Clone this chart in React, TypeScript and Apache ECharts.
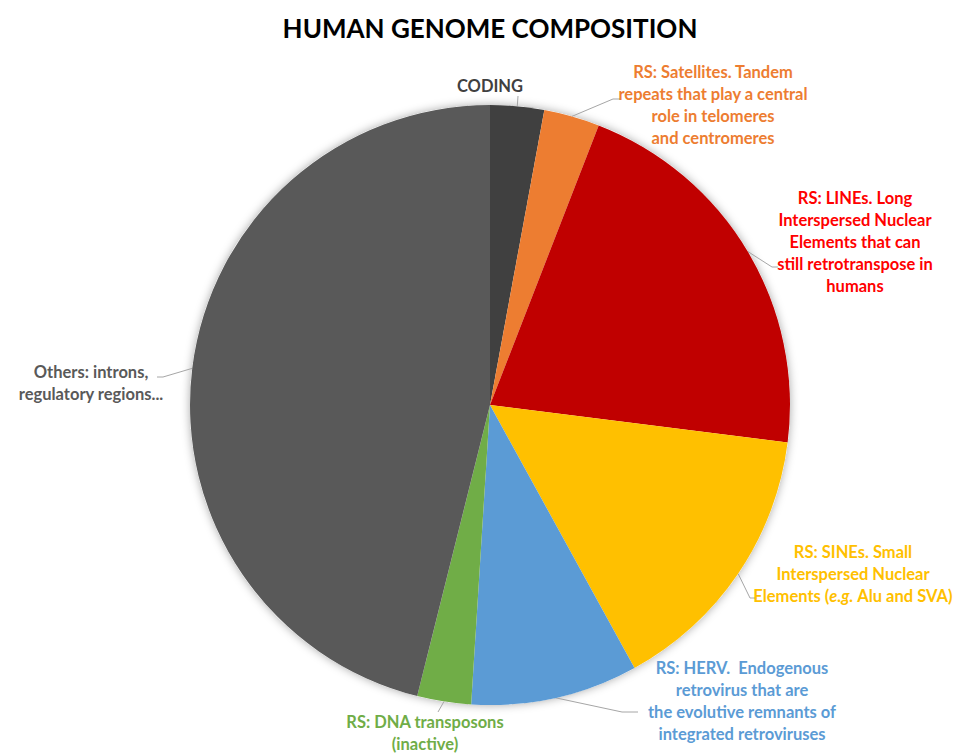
import React, { useEffect, useRef } from "react";
import * as echarts from "echarts";

const categories = [
  "CODING",
  "RS: Satellites",
  "RS: LINEs",
  "RS: SINEs",
  "RS: HERV",
  "RS: DNA transposons",
  "Others",
];
const values = [2.9, 3.0, 21.1, 15.0, 9.0, 2.9, 46.1];
const sliceColors = ["#404040", "#ED7D31", "#C00000", "#FFC000", "#5B9BD5", "#70AD47", "#595959"];
const labelColors = ["#404040", "#ED7D31", "#FF0000", "#FFC000", "#5B9BD5", "#70AD47", "#595959"];
const labelTexts = [
  "CODING",
  "RS: Satellites. Tandem\nrepeats that play a central\nrole in telomeres\nand centromeres",
  "RS: LINEs. Long\nInterspersed Nuclear\nElements that can\nstill retrotranspose in\nhumans",
  "RS: SINEs. Small\nInterspersed Nuclear\nElements ({i|e.g.} Alu and SVA)",
  "RS: HERV.  Endogenous\nretrovirus that are\nthe evolutive remnants of\nintegrated retroviruses",
  "RS: DNA transposons\n(inactive)",
  "Others: introns,\nregulatory regions...",
];

// label layout (positions only)
const CX = 490;
const CY = 405;
const R = 300;
const labelLayoutSpec: { x: number; y: number; pts: number[][] }[] = [
  { x: 490, y: 86, pts: [[518, 96]] },
  { x: 713, y: 105, pts: [[613, 99], [620, 99]] },
  { x: 855, y: 242, pts: [[772, 267], [778, 267]] },
  { x: 853, y: 574, pts: [[750, 598], [757, 598]] },
  { x: 742, y: 701, pts: [[622, 712], [638, 712]] },
  { x: 425, y: 733, pts: [[438, 712]] },
  { x: 91, y: 383, pts: [[163, 377], [157, 377]] },
];

const FONT = "Lato, 'Open Sans', sans-serif";
const FS = 16.5;

export default function App() {
  const ref = useRef<HTMLDivElement>(null);
  useEffect(() => {
    if (!ref.current) return;
    const chart = echarts.init(ref.current, undefined, { renderer: "svg" });
    const total = values.reduce((a, b) => a + b, 0);
    const mids: number[] = [];
    let cum = 0;
    values.forEach((v) => {
      mids.push(((cum + v / 2) / total) * 2 * Math.PI);
      cum += v;
    });
    const edge = (i: number) => [CX + R * Math.sin(mids[i]), CY - R * Math.cos(mids[i])];

    chart.setOption({
      animation: false,
      backgroundColor: "#ffffff",
      title: {
        text: "HUMAN GENOME COMPOSITION",
        left: 485,
        top: 10,
        textAlign: "center",
        textStyle: { fontFamily: FONT, fontWeight: "bold", fontSize: 26, color: "#000000" },
      },
      series: [
        {
          type: "pie",
          silent: true,
          center: [CX, CY],
          radius: R,
          z: 1,
          label: { show: false },
          labelLine: { show: false },
          itemStyle: { color: "#ffffff", shadowBlur: 10, shadowColor: "rgba(0,0,0,0.35)" },
          data: [{ value: 1, name: "bg" }],
        },
        {
          type: "pie",
          center: [CX, CY],
          radius: R,
          startAngle: 90,
          clockwise: true,
          z: 2,
          itemStyle: { borderWidth: 0 },
          label: {
            show: true,
            position: "outside",
            fontFamily: FONT,
            fontWeight: "bold",
            fontSize: FS,
            lineHeight: 22,
            align: "center",
            overflow: "none",
            width: 400,
          },
          labelLine: { show: true, lineStyle: { color: "#A6A6A6", width: 1 }, length: 10, length2: 10 },
          labelLayout: (params: any) => {
            const i = params.dataIndex;
            const s = labelLayoutSpec[i];
            return {
              x: s.x,
              y: s.y,
              align: "center",
              verticalAlign: "middle",
              labelLinePoints: [edge(i), ...s.pts],
            };
          },
          data: categories.map((name, i) => ({
            name,
            value: values[i],
            itemStyle: { color: sliceColors[i] },
            label: {
              formatter: labelTexts[i],
              color: labelColors[i],
              overflow: "none",
              rich: {
                i: {
                  fontFamily: FONT,
                  fontWeight: "bold",
                  fontStyle: "italic",
                  fontSize: FS,
                  lineHeight: 22,
                  color: labelColors[i],
                },
              },
            },
          })),
        },
      ],
    });
    return () => chart.dispose();
  }, []);
  return <div ref={ref} style={{ position: "fixed", left: 0, top: 0, width: 953, height: 755 }} />;
}
